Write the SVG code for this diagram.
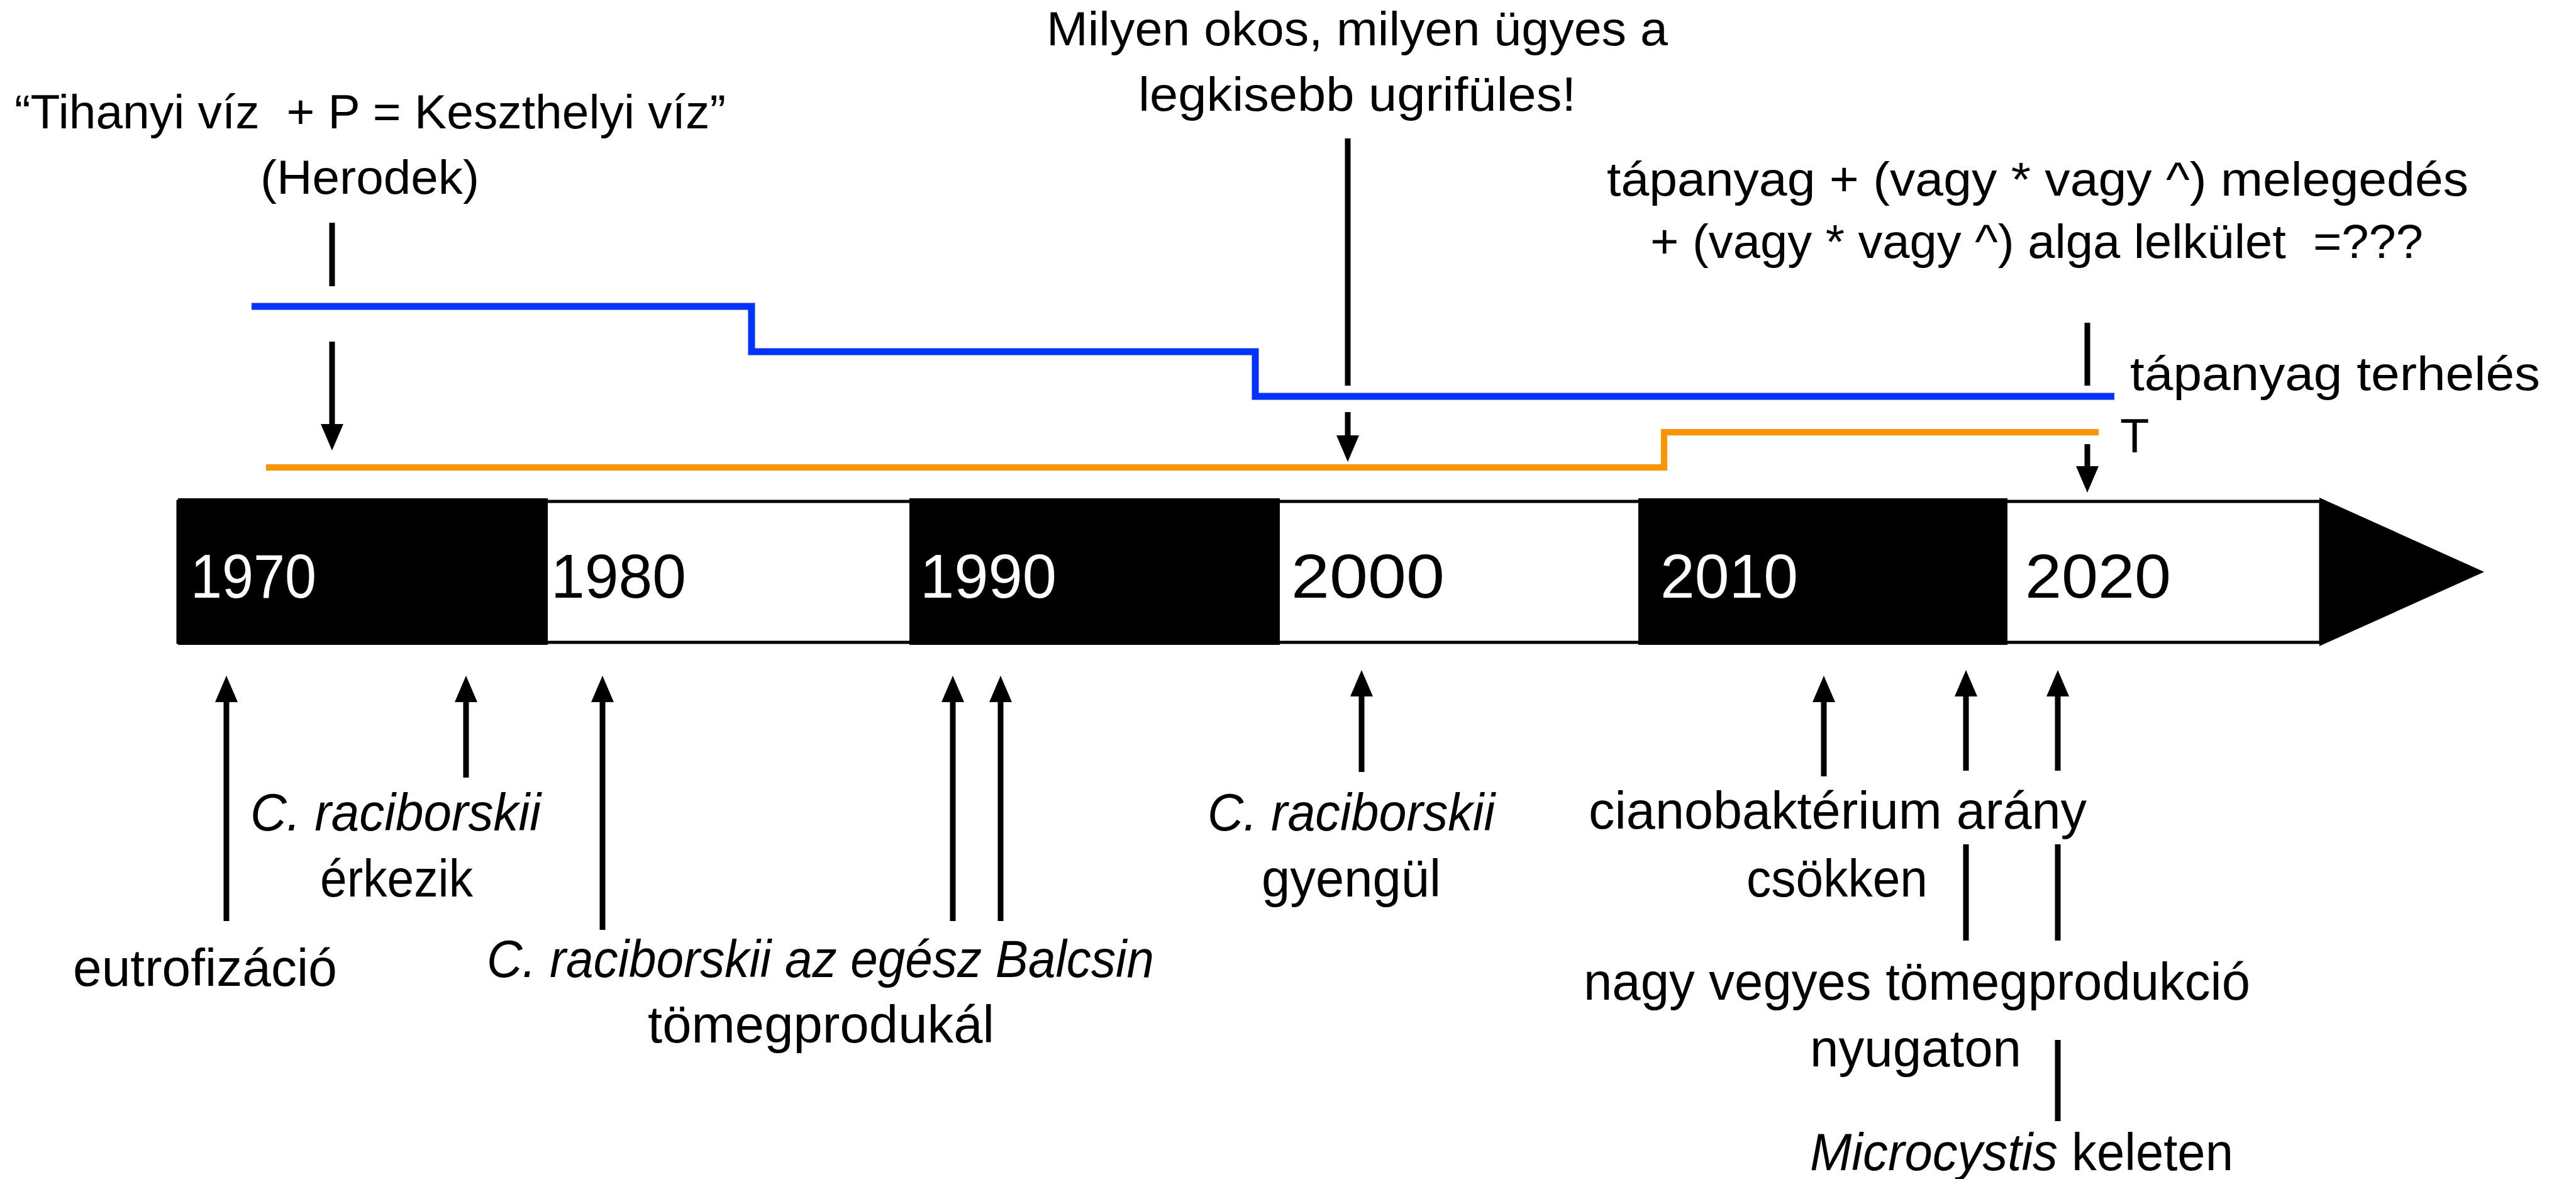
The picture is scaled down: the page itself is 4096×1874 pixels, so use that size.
<svg xmlns="http://www.w3.org/2000/svg" width="4096" height="1874" viewBox="0 0 4096 1874">
<style>
.t{font-family:"Liberation Sans",Arial,sans-serif;fill:#000;white-space:pre}
.top{font-size:76px}
.bot{font-size:84px}
.yr{font-size:99px}
.w{fill:#fff}
.i{font-style:italic}
.ln{stroke:#000;stroke-width:9;fill:none}
.ar{stroke:#000;stroke-width:9;fill:none;marker-end:url(#ah)}
.blue{stroke:#0433ff;stroke-width:11;fill:none}
.orange{stroke:#ff9300;stroke-width:10;fill:none}
</style>
<defs>
<marker id="ah" markerUnits="userSpaceOnUse" markerWidth="46" markerHeight="38" refX="4" refY="18" orient="auto">
<path d="M0,0 L42,18 L0,36 Z" fill="#000"/>
</marker>
</defs>
<rect width="4096" height="1874" fill="#fff"/>

<g id="timeline">
<rect x="283" y="797" width="3407" height="224" fill="#fff" stroke="#000" stroke-width="5"/>
<rect x="283" y="792" width="588" height="233" fill="#000"/>
<rect x="1446" y="792" width="589" height="233" fill="#000"/>
<rect x="2605" y="792" width="587" height="233" fill="#000"/>
<polygon points="3688,791 3950,909 3688,1027" fill="#000"/>
<text class="t yr w" x="303" y="950" textLength="200" lengthAdjust="spacingAndGlyphs">1970</text>
<text class="t yr" x="876" y="950" textLength="215" lengthAdjust="spacingAndGlyphs">1980</text>
<text class="t yr w" x="1463" y="950" textLength="217" lengthAdjust="spacingAndGlyphs">1990</text>
<text class="t yr" x="2053" y="950" textLength="244" lengthAdjust="spacingAndGlyphs">2000</text>
<text class="t yr w" x="2640" y="950" textLength="219" lengthAdjust="spacingAndGlyphs">2010</text>
<text class="t yr" x="3220" y="950" textLength="232" lengthAdjust="spacingAndGlyphs">2020</text>
</g>

<g id="series">
<polyline class="blue" points="400,487 1195,487 1195,559 1996,559 1996,630 3362,630"/>
<polyline class="orange" points="423,743 2646,743 2646,687 3337,687"/>
</g>

<g id="connectors">
<line class="ln" x1="528" y1="354" x2="528" y2="455"/>
<line class="ar" x1="528" y1="543" x2="528" y2="678"/>
<line class="ln" x1="2143" y1="220" x2="2143" y2="613"/>
<line class="ar" x1="2143" y1="655" x2="2143" y2="696"/>
<line class="ln" x1="3319" y1="513" x2="3319" y2="613"/>
<line class="ar" x1="3319" y1="706" x2="3319" y2="745"/>

<line class="ar" x1="360" y1="1464" x2="360" y2="1112"/>
<line class="ar" x1="741" y1="1236" x2="741" y2="1112"/>
<line class="ar" x1="958" y1="1478" x2="958" y2="1112"/>
<line class="ar" x1="1515" y1="1464" x2="1515" y2="1112"/>
<line class="ar" x1="1591" y1="1464" x2="1591" y2="1112"/>
<line class="ar" x1="2165" y1="1227" x2="2165" y2="1103"/>
<line class="ar" x1="2900" y1="1234" x2="2900" y2="1112"/>
<line class="ar" x1="3126" y1="1225" x2="3126" y2="1103"/>
<line class="ar" x1="3272" y1="1225" x2="3272" y2="1103"/>
<line class="ln" x1="3126" y1="1342" x2="3126" y2="1495"/>
<line class="ln" x1="3272" y1="1342" x2="3272" y2="1495"/>
<line class="ln" x1="3272" y1="1653" x2="3272" y2="1782"/>
</g>

<g id="label-herodek">
<text class="t top" x="23" y="204" textLength="1131" lengthAdjust="spacingAndGlyphs">“Tihanyi víz  + P = Keszthelyi víz”</text>
<text class="t top" x="414" y="308" textLength="348" lengthAdjust="spacingAndGlyphs">(Herodek)</text>
</g>
<g id="label-ugrifules">
<text class="t top" x="1664" y="72" textLength="988" lengthAdjust="spacingAndGlyphs">Milyen okos, milyen ügyes a</text>
<text class="t top" x="1810" y="176" textLength="696" lengthAdjust="spacingAndGlyphs">legkisebb ugrifüles!</text>
</g>
<g id="label-formula">
<text class="t top" x="2555" y="311" textLength="1370" lengthAdjust="spacingAndGlyphs">tápanyag + (vagy * vagy ^) melegedés</text>
<text class="t top" x="2624" y="410" textLength="1229" lengthAdjust="spacingAndGlyphs">+ (vagy * vagy ^) alga lelkület  =???</text>
</g>
<g id="label-terheles">
<text class="t top" x="3387" y="620" textLength="652" lengthAdjust="spacingAndGlyphs">tápanyag terhelés</text>
</g>
<g id="label-T">
<text class="t top" x="3371" y="719">T</text>
</g>

<g id="label-eutrofizacio">
<text class="t bot" x="116" y="1567" textLength="420" lengthAdjust="spacingAndGlyphs">eutrofizáció</text>
</g>
<g id="label-erkezik">
<text class="t bot i" x="398" y="1320" textLength="462" lengthAdjust="spacingAndGlyphs">C. raciborskii</text>
<text class="t bot" x="509" y="1425" textLength="243" lengthAdjust="spacingAndGlyphs">érkezik</text>
</g>
<g id="label-balcsin">
<text class="t bot i" x="774" y="1553" textLength="1061" lengthAdjust="spacingAndGlyphs">C. raciborskii az egész Balcsin</text>
<text class="t bot" x="1030" y="1657" textLength="551" lengthAdjust="spacingAndGlyphs">tömegprodukál</text>
</g>
<g id="label-gyengul">
<text class="t bot i" x="1920" y="1320" textLength="457" lengthAdjust="spacingAndGlyphs">C. raciborskii</text>
<text class="t bot" x="2006" y="1425" textLength="285" lengthAdjust="spacingAndGlyphs">gyengül</text>
</g>
<g id="label-ciano">
<text class="t bot" x="2526" y="1317" textLength="792" lengthAdjust="spacingAndGlyphs">cianobaktérium arány</text>
<text class="t bot" x="2777" y="1425" textLength="288" lengthAdjust="spacingAndGlyphs">csökken</text>
</g>
<g id="label-nyugaton">
<text class="t bot" x="2518" y="1589" textLength="1060" lengthAdjust="spacingAndGlyphs">nagy vegyes tömegprodukció</text>
<text class="t bot" x="2878" y="1695" textLength="336" lengthAdjust="spacingAndGlyphs">nyugaton</text>
</g>
<g id="label-microcystis">
<text class="t bot" x="2878" y="1860" textLength="673" lengthAdjust="spacingAndGlyphs"><tspan class="i">Microcystis</tspan> keleten</text>
</g>
</svg>
